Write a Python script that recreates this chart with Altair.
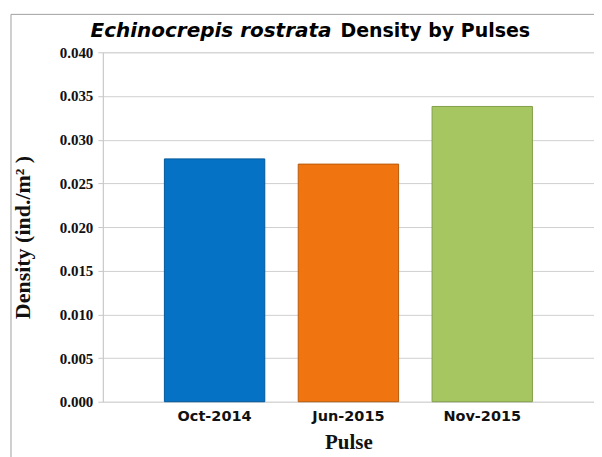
import altair as alt
import pandas as pd

categories = ["Oct-2014", "Jun-2015", "Nov-2015"]
values = [0.0278, 0.0272, 0.0338]
colors = ["#0572C6", "#F07511", "#A6C662"]
strokes = ["#04589A", "#B85A0C", "#82A04A"]

df = pd.DataFrame({"Pulse": categories, "Density": values})
one = pd.DataFrame({"k": [0]})

x = alt.X("Pulse:N", sort=categories,
          scale=alt.Scale(paddingInner=0.25, paddingOuter=0.46),
          axis=alt.Axis(title="Pulse", labelAngle=0, labelFont="DejaVu Sans",
                        labelFontWeight="bold", labelFontSize=14.5, labelColor="#111",
                        labelPadding=8, ticks=False, domain=False,
                        titleFont="Liberation Serif", titleFontSize=21,
                        titleFontWeight="bold", titleColor="#111", titlePadding=8))
y = alt.Y("Density:Q", scale=alt.Scale(domain=[0, 0.04]),
          axis=alt.Axis(title="Density (ind./m² )", values=[i * 0.005 for i in range(9)],
                        format=".3f", labelFont="Liberation Serif", labelFontWeight="bold",
                        labelFontSize=15, labelColor="#111", labelPadding=5,
                        tickSize=5, tickColor="#C8C8C8", domainColor="#C8C8C8",
                        gridColor="#D0D0D0", titleFont="Liberation Serif",
                        titleFontSize=22, titleFontWeight="bold", titleColor="#111",
                        titleX=-80, titleY=185, titleAngle=-90,
                        titleAlign="center", titleBaseline="middle"))

bars = alt.Chart(df).mark_bar(strokeWidth=1).encode(
    x=x, y=y,
    color=alt.Color("Pulse:N", sort=categories,
                    scale=alt.Scale(domain=categories, range=colors), legend=None),
    stroke=alt.Stroke("Pulse:N", sort=categories,
                      scale=alt.Scale(domain=categories, range=strokes), legend=None),
)

t1 = alt.Chart(one).mark_text(text="Echinocrepis rostrata", font="DejaVu Sans",
                              fontStyle="italic", fontWeight="bold", fontSize=20,
                              align="right", baseline="alphabetic", color="#000").encode(
    x=alt.value(229), y=alt.value(-15))
t2 = alt.Chart(one).mark_text(text="Density by Pulses", font="DejaVu Sans",
                              fontWeight="bold", fontSize=19,
                              align="left", baseline="alphabetic", color="#000").encode(
    x=alt.value(238), y=alt.value(-15))

frame_left = alt.Chart(one).mark_rule(color="#A0A0A0", strokeWidth=1).encode(
    x=alt.value(-92), y=alt.value(-38), y2=alt.value(420))
frame_top = alt.Chart(one).mark_rule(color="#A0A0A0", strokeWidth=1).encode(
    x=alt.value(-92), x2=alt.value(510), y=alt.value(-38))

chart = alt.layer(bars, t1, t2, frame_left, frame_top).properties(
    width=492, height=350,
    autosize=alt.AutoSizeParams(type="none"),
    padding={"left": 95, "top": 44, "right": 0, "bottom": 55},
).configure_view(stroke=None).configure(background="white")

chart.save("out.html", embed_options={"renderer": "svg", "actions": False})
